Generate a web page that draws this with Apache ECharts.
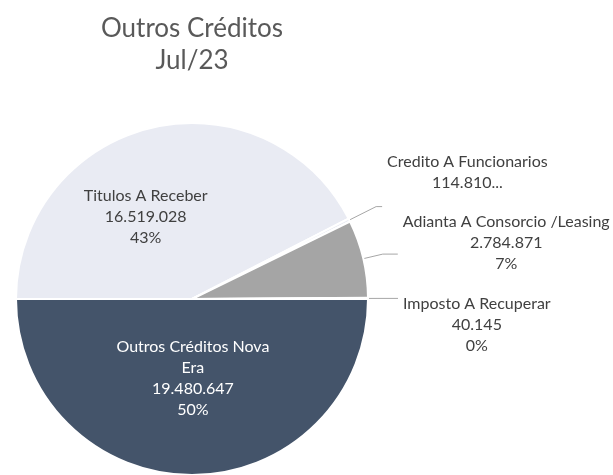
<!DOCTYPE html>
<html>
<head>
<meta charset="utf-8">
<style>
  html, body { margin: 0; padding: 0; background: #fff; }
  #chart { width: 613px; height: 475px; }
</style>
<script src="https://cdn.jsdelivr.net/npm/echarts@6/dist/echarts.min.js"></script>
</head>
<body>
<div id="chart"></div>
<script>
var names = ['Outros Créditos Nova Era', 'Titulos A Receber', 'Credito A Funcionarios', 'Adianta A Consorcio /Leasing', 'Imposto A Recuperar'];
var values = [19480647, 16519028, 114810, 2784871, 40145];
var colors = ['#44546A', '#E9EBF3', '#E9EBF3', '#A5A5A5', '#D9D9D9'];
var clipped = [false, false, true, false, false];

function fmt(n) {
  return String(n).replace(/\B(?=(\d{3})+(?!\d))/g, '.');
}

var chart = echarts.init(document.getElementById('chart'));

// per-slice label tweaks (inside ones get an offset, outside ones a leader line + padding)
var labelCfg = [
  { inside: true, color: '#fff', offset: [1, -12] },
  { inside: true, color: '#404040', offset: [-25, 6] },
  { len: 30, len2: 6, padding: [0, 0, 68, 0] },
  { len: 20, len2: 15, padding: [0, 0, 22, 0] },
  { len: 10, len2: 20, padding: [52, 0, 0, 0] }
];

var data = names.map(function(n, i) {
  var c = labelCfg[i];
  var item = { name: n, value: values[i], itemStyle: { color: colors[i] } };
  if (c.inside) {
    item.label = { position: 'inside', color: c.color, offset: c.offset };
    item.labelLine = { show: false };
  } else {
    item.label = { padding: c.padding };
    item.labelLine = { length: c.len, length2: c.len2 };
  }
  return item;
});

chart.setOption({
  animation: false,
  title: {
    text: 'Outros Créditos\nJul/23',
    left: 187,
    top: 8,
    textAlign: 'center',
    textStyle: { fontFamily: 'Lato', fontSize: 26, fontWeight: 'normal', color: '#595959', lineHeight: 32 }
  },
  series: [{
    type: 'pie',
    center: [192, 299],
    radius: 176,
    startAngle: 0,
    clockwise: true,
    percentPrecision: 0,
    avoidLabelOverlap: false,
    itemStyle: { borderColor: '#fff', borderWidth: 2 },
    label: {
      fontFamily: 'Lato',
      fontSize: 16,
      color: '#404040',
      formatter: function(p) {
        var nm = p.name;
        if (p.dataIndex === 0) nm = 'Outros Créditos Nova\nEra';
        var lines = nm.split('\n');
        if (clipped[p.dataIndex]) {
          lines.push(fmt(p.value) + '...');
        } else {
          lines.push(fmt(p.value));
          lines.push(p.percent + '%');
        }
        return lines.map(function(s) { return '{t|' + s + '}'; }).join('\n');
      },
      rich: { t: { align: 'center', lineHeight: 21 } }
    },
    labelLine: { lineStyle: { color: '#A6A6A6', width: 1 } },
    data: data
  }]
});
</script>
</body>
</html>
